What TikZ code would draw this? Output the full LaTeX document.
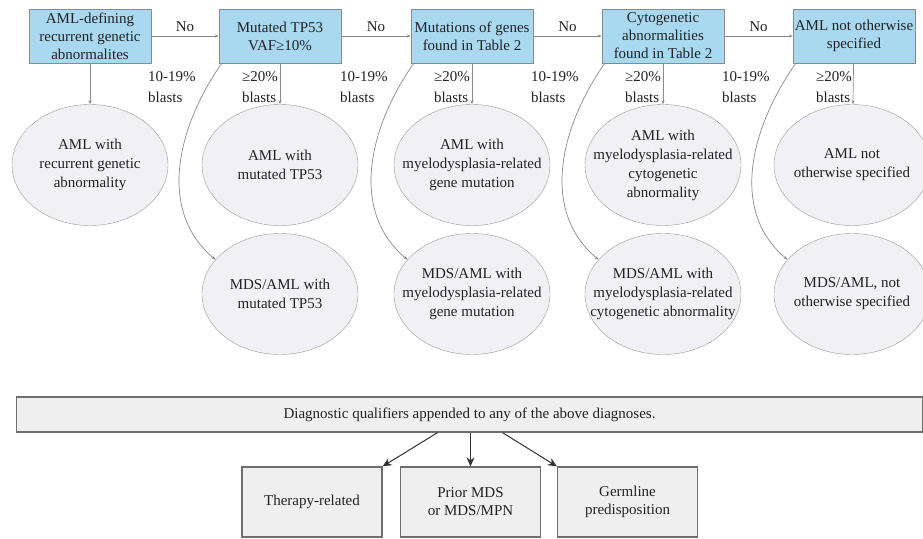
\documentclass[tikz,border=0pt]{standalone}
\usepackage{fontspec}
\setmainfont{Liberation Serif}
\usetikzlibrary{shapes.geometric,arrows.meta}

\definecolor{boxblue}{HTML}{A9D8F1}
\definecolor{boxedge}{HTML}{8A8A8A}
\definecolor{ovalfill}{HTML}{F1F1F5}
\definecolor{ovaledge}{HTML}{9A9A9A}
\definecolor{qualfill}{HTML}{EFEFEF}
\definecolor{qualedge}{HTML}{6E6E6E}
\definecolor{inkgray}{HTML}{222222}

\begin{document}
\begin{tikzpicture}[x=1pt, y=1pt, >={Stealth[length=4pt,width=3pt]},
  font=\fontsize{15}{18}\selectfont, text=inkgray,
  question/.style={draw=boxedge, fill=boxblue, minimum width=122pt,
    minimum height=54pt, inner sep=1pt, align=center},
  oval/.style={ellipse, draw=ovaledge, fill=ovalfill, minimum width=156pt,
    minimum height=121pt, inner xsep=-18pt, inner ysep=0pt, align=center,
    font=\fontsize{15}{19}\selectfont},
  blastlabel/.style={inner sep=0pt, align=left, font=\fontsize{15}{21}\selectfont},
  flow/.style={->, draw=boxedge, line width=0.7pt},
  qualbox/.style={draw=qualedge, fill=qualfill, line width=1.3pt, align=center},
  qualflow/.style={-{Stealth[length=9pt,width=8pt]}, draw=black!80, line width=1pt}]
  \useasboundingbox (0,0) rectangle (923,-538);

  % Questions along the top
  \foreach \i/\x/\txt in {1/90/{AML-defining\\recurrent genetic\\abnormalites},
                          2/280/{Mutated TP53\\VAF≥10\%},
                          3/472/{Mutations of genes\\found in Table 2},
                          4/663/{Cytogenetic\\abnormalities\\found in Table 2},
                          5/854/{AML not otherwise\\specified}} {
    \node[question] (b\i) at (\x,-36) {\txt};
  }

  % "No" steps from one question to the next
  \foreach \i/\j in {1/2,2/3,3/4,4/5} {
    \draw[flow] (b\i) -- node[above, yshift=1pt] {No} (b\j);
  }

  % Diagnoses with >= 20% blasts
  \foreach \i/\x/\txt in {1/90/{AML with\\recurrent genetic\\abnormality},
                          2/280/{AML with\\mutated TP53},
                          3/472/{AML with\\myelodysplasia-related\\gene mutation},
                          4/663/{AML with\\myelodysplasia-related\\cytogenetic\\abnormality},
                          5/852/{AML not\\otherwise specified}} {
    \node[oval] (m\i) at (\x,-165) {\txt};
    \draw[flow] (b\i) -- (m\i);
  }

  % Diagnoses with 10-19% blasts
  \foreach \i/\x/\txt in {2/280/{MDS/AML with\\mutated TP53},
                          3/472/{MDS/AML with\\myelodysplasia-related\\gene mutation},
                          4/663/{MDS/AML with\\myelodysplasia-related\\cytogenetic abnormality},
                          5/852/{MDS/AML, not\\otherwise specified}} {
    \node[oval] (n\i) at (\x,-294) {\txt};
    \draw[flow] ([xshift=3pt]b\i.south west) to[out=235, in=140] (n\i.152);
    \node[blastlabel, anchor=north west] (lo\i) at ([xshift=-132pt, yshift=-8pt]b\i.south) {10-19\%\\blasts};
    \node[blastlabel, anchor=north east] (hi\i) at ([xshift=-2pt, yshift=-8pt]b\i.south) {≥20\%\\blasts};
  }

  % Qualifiers
  \node[qualbox, minimum width=906pt, minimum height=35pt] (qual) at (469.5,-414.5)
    {Diagnostic qualifiers appended to any of the above diagnoses.};
  \node[qualbox, minimum width=140pt, minimum height=70pt] (ther) at (312,-502) {Therapy-related};
  \node[qualbox, minimum width=140pt, minimum height=70pt] (prior) at (470.5,-502) {Prior MDS\\or MDS/MPN};
  \node[qualbox, minimum width=140pt, minimum height=70pt] (germ) at (627.5,-502) {Germline\\predisposition};
  \draw[qualflow] ([xshift=-32pt]qual.south) -- (ther.north east);
  \draw[qualflow] (qual.south -| prior.north) -- (prior.north);
  \draw[qualflow] ([xshift=33pt]qual.south) -- (germ.north west);
\end{tikzpicture}
\end{document}
